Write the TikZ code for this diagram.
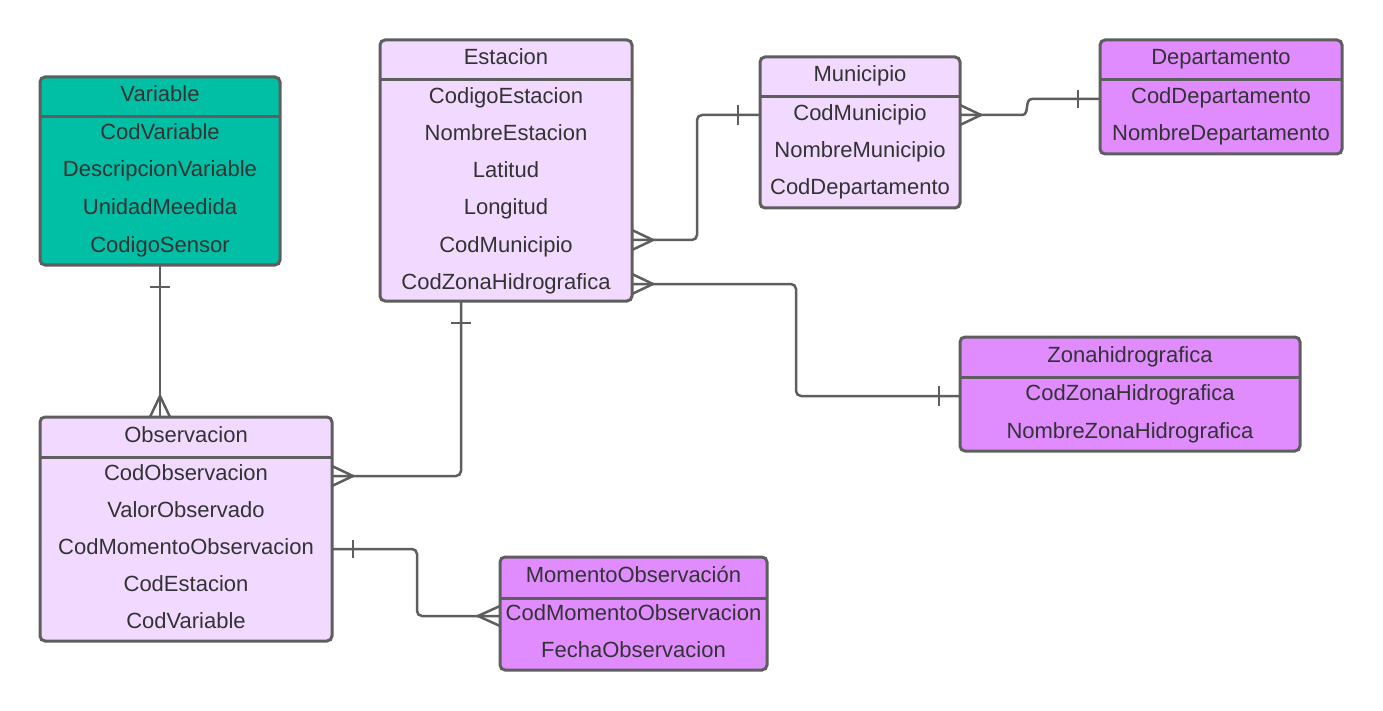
\documentclass[tikz,border=0pt]{standalone}
\usepackage{fontspec}
\setmainfont{Liberation Sans}
\usetikzlibrary{calc}
\definecolor{bord}{HTML}{5E5E5E}
\definecolor{txtc}{HTML}{333333}
\definecolor{tealc}{HTML}{00BFA5}
\definecolor{pinkc}{HTML}{F2D9FF}
\definecolor{purpc}{HTML}{E08CFF}
\begin{document}
\begin{tikzpicture}[x=1pt,y=-1pt,
  ent/.style={draw=bord, line width=3pt, rounded corners=5pt, anchor=north west, inner sep=0pt, outer sep=0pt},
  hdr/.style={draw=bord, line width=3pt},
  txt/.style={text=txtc, font=\fontsize{22}{26}\selectfont, inner sep=0pt, anchor=base},
  conn/.style={draw=bord, line width=2.5pt, rounded corners=5pt},
  cmark/.style={draw=bord, line width=2.5pt}]
\useasboundingbox (0,0) rectangle (1383,711);

% Variable
\node[ent, fill=tealc, minimum width=240pt, minimum height=188pt] (var) at (40,77) {};
\draw[hdr] ($(var.north west)+(0,40)$) -- ($(var.north east)+(0,40)$);
\node[txt] (var-t) at (160,102) {Variable};
\node[txt] (var-1) at (160,140) {CodVariable};
\node[txt] (var-2) at (160,177) {DescripcionVariable};
\node[txt] (var-3) at (160,215) {UnidadMeedida};
\node[txt] (var-4) at (160,252) {CodigoSensor};

% Estacion
\node[ent, fill=pinkc, minimum width=252pt, minimum height=261pt] (est) at (380,40) {};
\draw[hdr] ($(est.north west)+(0,40)$) -- ($(est.north east)+(0,40)$);
\node[txt] (est-t) at (506,65) {Estacion};
\node[txt] (est-1) at (506,104) {CodigoEstacion};
\node[txt] (est-2) at (506,141) {NombreEstacion};
\node[txt] (est-3) at (506,178) {Latitud};
\node[txt] (est-4) at (506,215) {Longitud};
\node[txt] (est-5) at (506,252) {CodMunicipio};
\node[txt] (est-6) at (506,289) {CodZonaHidrografica};

% Municipio
\node[ent, fill=pinkc, minimum width=200pt, minimum height=151pt] (mun) at (760,57) {};
\draw[hdr] ($(mun.north west)+(0,40)$) -- ($(mun.north east)+(0,40)$);
\node[txt] (mun-t) at (860,82) {Municipio};
\node[txt] (mun-1) at (860,121) {CodMunicipio};
\node[txt] (mun-2) at (860,158) {NombreMunicipio};
\node[txt] (mun-3) at (860,195) {CodDepartamento};

% Departamento
\node[ent, fill=purpc, minimum width=242pt, minimum height=114pt] (dep) at (1100,40) {};
\draw[hdr] ($(dep.north west)+(0,40)$) -- ($(dep.north east)+(0,40)$);
\node[txt] (dep-t) at (1221,65) {Departamento};
\node[txt] (dep-1) at (1221,104) {CodDepartamento};
\node[txt] (dep-2) at (1221,141) {NombreDepartamento};

% Zonahidrografica
\node[ent, fill=purpc, minimum width=340pt, minimum height=114pt] (zon) at (960,337) {};
\draw[hdr] ($(zon.north west)+(0,40)$) -- ($(zon.north east)+(0,40)$);
\node[txt] (zon-t) at (1130,362) {Zonahidrografica};
\node[txt] (zon-1) at (1130,400) {CodZonaHidrografica};
\node[txt] (zon-2) at (1130,438) {NombreZonaHidrografica};

% Observacion
\node[ent, fill=pinkc, minimum width=292pt, minimum height=224pt] (obs) at (40,417) {};
\draw[hdr] ($(obs.north west)+(0,40)$) -- ($(obs.north east)+(0,40)$);
\node[txt] (obs-t) at (186,442) {Observacion};
\node[txt] (obs-1) at (186,480) {CodObservacion};
\node[txt] (obs-2) at (186,517) {ValorObservado};
\node[txt] (obs-3) at (186,554) {CodMomentoObservacion};
\node[txt] (obs-4) at (186,591) {CodEstacion};
\node[txt] (obs-5) at (186,628) {CodVariable};

% MomentoObservacion
\node[ent, fill=purpc, minimum width=267pt, minimum height=113pt] (mom) at (500,557) {};
\draw[hdr] ($(mom.north west)+(0,41)$) -- ($(mom.north east)+(0,41)$);
\node[txt] (mom-t) at (633.5,582) {MomentoObservación};
\node[txt] (mom-1) at (633.5,620) {CodMomentoObservacion};
\node[txt] (mom-2) at (633.5,657) {FechaObservacion};

% 1 Variable - Observacion
\draw[conn] ($(var.south west)+(120,0)$) -- ($(obs.north west)+(120,0)$);
\draw[cmark] ($(var.south west)+(110,22)$) -- ++(20,0);
\draw[cmark] ($(obs.north west)+(110,0)$) -- ++(10,-21) -- ++(10,21);

% 2 Estacion - Observacion
\draw[conn] ($(est.south west)+(81,0)$) |- ($(obs.north east)+(0,59)$);
\draw[cmark] ($(est.south west)+(71,22)$) -- ++(20,0);
\draw[cmark] ($(obs.north east)+(0,49)$) -- ++(21,10) -- ++(-21,10);

% 3 Estacion - Municipio
\draw[conn] ($(est.north east)+(0,200)$) -- ($(est.north east)+(65,200)$) |- ($(mun.north west)+(0,58)$);
\draw[cmark] ($(est.north east)+(0,190)$) -- ++(21,10) -- ++(-21,10);
\draw[cmark] ($(mun.north west)+(-22,48)$) -- ++(0,20);

% 4 Estacion - Zonahidrografica
\draw[conn] ($(est.north east)+(0,244)$) -- ($(est.north east)+(164,244)$) |- ($(zon.north west)+(0,59)$);
\draw[cmark] ($(est.north east)+(0,234)$) -- ++(21,10) -- ++(-21,10);
\draw[cmark] ($(zon.north west)+(-21,49)$) -- ++(0,20);

% 5 Municipio - Departamento
\draw[cmark] ($(mun.north east)+(0,58)$) -- ($(mun.north east)+(62,58)$)
  .. controls ($(mun.north east)+(70,58)$) and ($(mun.north east)+(64,42)$) .. ($(mun.north east)+(72,42)$)
  -- ($(dep.north west)+(0,59)$);
\draw[cmark] ($(mun.north east)+(0,48)$) -- ++(21,10) -- ++(-21,10);
\draw[cmark] ($(dep.north west)+(-22,50)$) -- ++(0,18);

% 6 Observacion - MomentoObservacion
\draw[conn] ($(obs.north east)+(0,132)$) -- ($(obs.north east)+(85,132)$) |- ($(mom.north west)+(0,59)$);
\draw[cmark] ($(obs.north east)+(21,123)$) -- ++(0,18);
\draw[cmark] ($(mom.north west)+(0,49)$) -- ++(-22,10) -- ++(22,10);
\end{tikzpicture}
\end{document}
